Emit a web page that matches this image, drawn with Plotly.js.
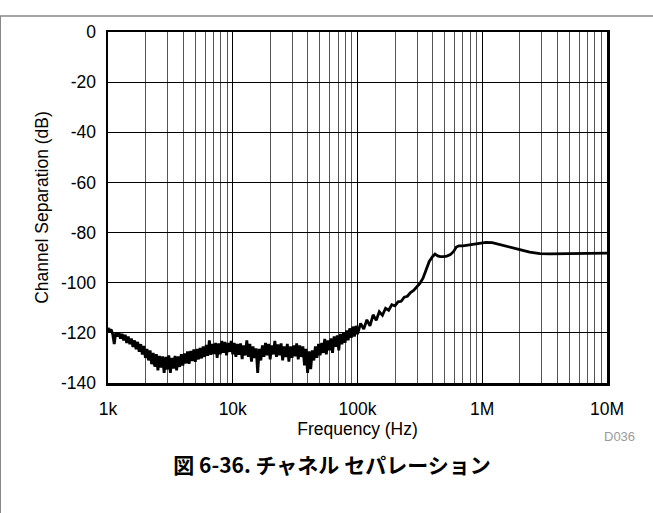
<!DOCTYPE html>
<html>
<head>
<meta charset="utf-8">
<script src="https://cdn.plot.ly/plotly-3.0.1.min.js"></script>
<style>html,body{margin:0;padding:0;background:#fff;}#chart{width:653px;height:513px;}</style>
</head>
<body>
<div id="chart"></div>
<script>
// Frequency (Hz)
const freqHz = [
  1000,1029,1059,1090,1122,1155,1189,1223,1259,1296,1334,1372,1413,1454,1496,1540,1585,1631,1679,1728,
  1778,1830,1884,1939,1995,2054,2113,2175,2239,2304,2371,2441,2512,2585,2661,2738,2818,2901,2985,3073,
  3162,3255,3350,3447,3548,3652,3758,3868,3981,4097,4217,4340,4467,4597,4732,4870,5012,5158,5309,5464,
  5623,5788,5957,6131,6310,6494,6683,6879,7079,7286,7499,7718,7943,8175,8414,8660,8913,9173,9441,9716,
  10000,10290,10590,10900,11220,11550,11890,12230,12590,12960,13340,13720,14130,14540,14960,15400,15850,16310,16790,17280,
  17780,18300,18840,19390,19950,20540,21130,21750,22390,23040,23710,24410,25120,25850,26610,27380,28180,29010,29850,30730,
  31620,32550,33500,34470,35480,36520,37580,38680,39810,40970,42170,43400,44670,45970,47320,48700,50120,51580,53090,54640,
  56230,57880,59570,61310,63100,64940,66830,68790,70790,72860,74990,77180,79430,81750,84140,86600,89130,91730,94410,97160,
  100000,105900,112200,118900,125900,133400,141300,149600,158500,167900,177800,188400,199500,211300,223900,237100,251200,266100,281800,298500,
  316200,335000,355000,376000,400000,418000,440000,460000,490000,520000,555000,590000,620000,650000,700000,800000,920000,1070000,1200000,1300000,
  1580000,2000000,2400000,2900000,3500000,4400000,6000000,8000000,10000000
];
// Channel separation (dB)
const sepDb = [
  -118.0,-119.5,-118.6,-120.5,-124.5,-119.8,-121.5,-119.8,-122.3,-120.4,-123.0,-120.8,-124.0,-121.5,-124.5,-122.3,-125.6,-123.0,-126.5,-123.6,
  -127.5,-124.5,-128.6,-125.2,-130.0,-126.4,-131.0,-127.0,-132.5,-128.0,-133.5,-128.5,-135.0,-129.2,-133.8,-129.4,-136.0,-129.6,-134.6,-129.0,
  -136.0,-130.0,-134.2,-129.2,-135.0,-129.4,-133.6,-128.5,-133.0,-128.2,-132.2,-127.4,-132.4,-127.2,-131.2,-126.6,-131.6,-126.4,-130.6,-126.0,
  -130.2,-125.4,-129.6,-124.8,-129.2,-123.0,-128.8,-124.4,-128.4,-124.0,-130.0,-124.2,-128.6,-123.2,-128.0,-123.6,-129.0,-124.0,-127.6,-123.2,
  -128.6,-124.0,-129.6,-124.4,-128.8,-124.2,-130.5,-125.0,-129.0,-123.0,-129.6,-124.4,-131.5,-125.4,-130.0,-126.2,-136.0,-126.4,-131.0,-125.0,
  -129.6,-124.0,-129.0,-124.4,-130.6,-125.0,-128.6,-123.2,-129.6,-124.6,-129.0,-124.2,-131.0,-125.4,-129.6,-124.4,-131.5,-125.4,-130.0,-125.0,
  -129.4,-124.2,-130.6,-125.0,-129.6,-125.4,-133.0,-126.4,-136.0,-127.4,-134.5,-127.0,-131.0,-125.4,-130.0,-124.4,-129.0,-124.0,-128.0,-122.4,
  -128.6,-123.0,-127.0,-122.2,-128.0,-121.4,-125.6,-121.0,-127.0,-120.4,-124.6,-120.0,-124.0,-119.0,-123.0,-118.2,-122.0,-117.5,-121.5,-117.2,
  -120.5,-116.2,-118.5,-114.8,-117.2,-112.8,-115.0,-111.6,-113.0,-110.2,-111.0,-108.8,-109.2,-107.6,-107.4,-105.8,-105.4,-103.9,-103.1,-101.7,
  -100.3,-98.2,-95.0,-91.5,-89.5,-88.6,-89.3,-89.6,-89.6,-89.4,-88.8,-87.5,-85.8,-85.3,-85.3,-84.8,-84.2,-83.9,-84.0,-84.4,
  -85.5,-86.8,-87.8,-88.4,-88.5,-88.4,-88.3,-88.2,-88.2
];
const xTickVals = [1e3, 1e4, 1e5, 1e6, 1e7];
const xTickText = ['1k', '10k', '100k', '1M', '10M'];
const yTickVals = [0, -20, -40, -60, -80, -100, -120, -140];
const yTickText = ['0', '-20', '-40', '-60', '-80', '-100', '-120', '-140'];

const FONT = 'Arial';

const trace = {
  x: freqHz, y: sepDb, type: 'scatter', mode: 'lines',
  line: {color: '#000', width: 2.8}, hoverinfo: 'skip', showlegend: false
};

const layout = {
  width: 653, height: 513,
  margin: {l: 108, r: 46, t: 32, b: 130},
  paper_bgcolor: '#fff', plot_bgcolor: '#fff',
  font: {family: FONT, size: 17.5, color: '#000'},
  title: {
    text: '<b>図 6-36. チャネル セパレーション</b>',
    font: {family: 'Noto Sans CJK JP', size: 21, color: '#000'},
    x: 332/653, xref: 'container', xanchor: 'center',
    y: 1 - 466/513, yref: 'container', yanchor: 'middle'
  },
  xaxis: {
    type: 'log', range: [3, 7],
    tickmode: 'array', tickvals: xTickVals, ticktext: xTickText,
    ticks: '', ticklabelstandoff: 8,
    tickfont: {family: FONT, size: 17.5, color: '#000'},
    showgrid: true, gridcolor: '#000', gridwidth: 1,
    minor: {dtick: 'D1', showgrid: true, gridcolor: '#555', gridwidth: 1, ticks: ''},
    showline: true, linecolor: '#000', linewidth: 2.5, mirror: true,
    zeroline: false,
    title: {text: 'Frequency (Hz)', font: {family: FONT, size: 17.5, color: '#000'}, standoff: 1}
  },
  yaxis: {
    range: [-140, 0], tickmode: 'array', tickvals: yTickVals, ticktext: yTickText,
    ticks: '', ticklabelstandoff: 6,
    tickfont: {family: FONT, size: 17.5, color: '#000'},
    showgrid: true, gridcolor: '#000', gridwidth: 1,
    showline: true, linecolor: '#000', linewidth: 2.5, mirror: true,
    zeroline: false,
    title: {text: 'Channel Separation (dB)', font: {family: FONT, size: 17.5, color: '#000'}, standoff: 8}
  },
  annotations: [{
    text: 'D036', xref: 'paper', yref: 'paper',
    x: (619 - 108)/499, y: (383 - 436)/351,
    xanchor: 'center', yanchor: 'middle', showarrow: false,
    font: {family: FONT, size: 13, color: '#9a9a9a'}
  }],
  shapes: [
    {type: 'line', xref: 'paper', yref: 'paper',
     x0: (0 - 108)/499, x1: (653 - 108)/499, y0: (383 - 16)/351, y1: (383 - 16)/351,
     line: {color: '#888', width: 1.5}},
    {type: 'line', xref: 'paper', yref: 'paper',
     x0: (0.5 - 108)/499, x1: (0.5 - 108)/499, y0: (383 - 16)/351, y1: (383 - 513)/351,
     line: {color: '#888', width: 1}}
  ]
};

Plotly.newPlot('chart', [trace], layout, {displayModeBar: false, staticPlot: true});
</script>
</body>
</html>
